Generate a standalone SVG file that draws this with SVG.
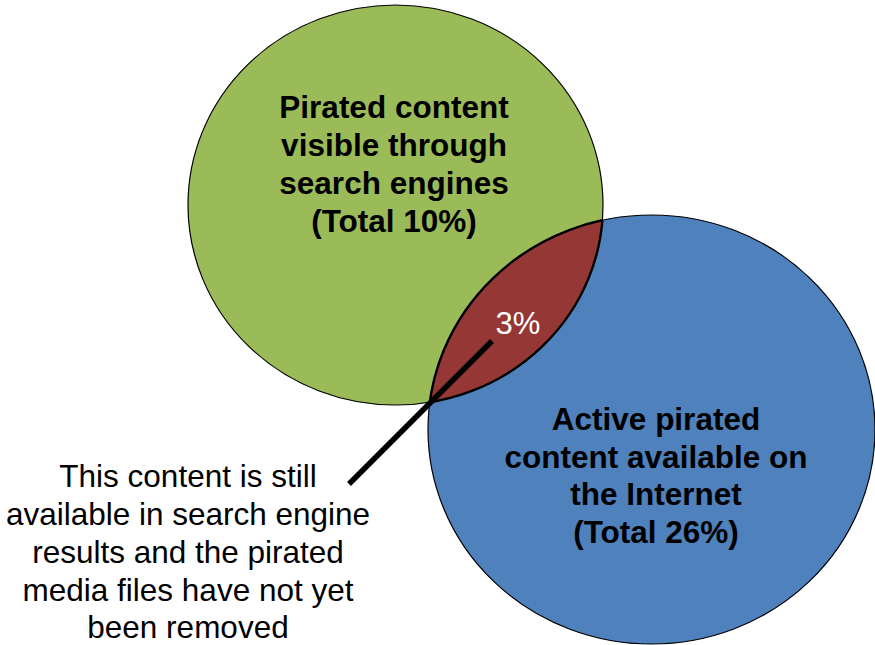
<svg xmlns="http://www.w3.org/2000/svg" width="875" height="645" viewBox="0 0 875 645">
<style>
.bold{font-family:"Liberation Sans",Arial,sans-serif;font-weight:bold;font-size:31.5px;fill:#000;text-anchor:middle}
.reg{font-family:"Liberation Sans",Arial,sans-serif;font-size:31.5px;fill:#000;text-anchor:middle}
.edge{stroke:#000;stroke-width:1.2}
</style>
<defs>
<ellipse id="eg" cx="395.5" cy="205" rx="207.5" ry="200"/>
<ellipse id="eb" cx="651.5" cy="429.5" rx="223.5" ry="214.5"/>
<clipPath id="clipB"><use href="#eb"/></clipPath>
<clipPath id="clipG"><use href="#eg"/></clipPath>
</defs>
<rect width="875" height="645" fill="#fff"/>
<g id="node-green">
<use href="#eg" fill="#9BBB59" class="edge"/>
<text class="bold" x="394" y="118">Pirated content</text>
<text class="bold" x="394" y="156">visible through</text>
<text class="bold" x="394" y="194">search engines</text>
<text class="bold" x="394" y="232">(Total 10%)</text>
</g>
<g id="node-blue">
<use href="#eb" fill="#4F81BD" class="edge"/>
<text class="bold" x="656" y="430">Active pirated</text>
<text class="bold" x="656" y="468">content available on</text>
<text class="bold" x="656" y="505">the Internet</text>
<text class="bold" x="656" y="543">(Total 26%)</text>
</g>
<g id="node-overlap">
<g clip-path="url(#clipB)">
<use href="#eg" fill="#953735" stroke="#000" stroke-width="2.4"/>
</g>
<g clip-path="url(#clipG)">
<use href="#eb" fill="none" stroke="#000" stroke-width="2.4"/>
</g>
<text x="518" y="334" font-family="'Liberation Sans',Arial,sans-serif" font-size="31" fill="#fff" text-anchor="middle">3%</text>
</g>
<g id="connectors">
<line x1="349" y1="484" x2="492" y2="341" stroke="#000" stroke-width="5.5"/>
</g>
<g id="node-note">
<text class="reg" x="188" y="487">This content is still</text>
<text class="reg" x="188" y="525">available in search engine</text>
<text class="reg" x="188" y="563">results and the pirated</text>
<text class="reg" x="188" y="601">media files have not yet</text>
<text class="reg" x="188" y="638">been removed</text>
</g>
</svg>
